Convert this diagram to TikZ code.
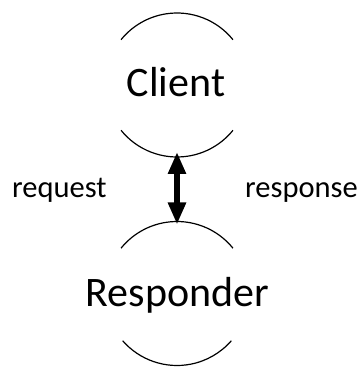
\documentclass[tikz,border=0pt]{standalone}
\usepackage{fontspec}
\setmainfont{Carlito}
\usetikzlibrary{arrows.meta}
\tikzset{
  party/.style={circle,minimum size=144pt,inner sep=0pt,outer sep=0pt},
  partyname/.style={inner sep=0pt,anchor=base,font=\fontsize{42}{50}\selectfont},
  msg/.style={inner sep=0pt,anchor=base west,font=\fontsize{30.5}{36}\selectfont},
  rim/.style={line width=1.2pt}
}
\begin{document}
\begin{tikzpicture}[x=1pt,y=1pt]
\useasboundingbox (0,0) rectangle (363,367);
\node[party] (client) at (177,282) {};
\node[party] (responder) at (177,73.5) {};
\node[partyname] (clientname) at (176,270) {Client};
\node[partyname] (respondername) at (177.5,60) {Responder};
\draw[rim] (client.39) arc (39:141:72pt);
\draw[rim] (client.219) arc (219:321:72pt);
\draw[rim] (responder.39) arc (39:141:72pt);
\draw[rim] (responder.221) arc (221:319:72pt);
\draw[{Triangle[width=17pt,length=22pt]}-{Triangle[width=17pt,length=22pt]},line width=5.5pt,
  shorten <=-5pt,shorten >=-3pt] (client.south) -- (responder.north);
\node[msg] (req) at (12,169) {request};
\node[msg] (resp) at (245,169) {response};
\end{tikzpicture}
\end{document}
